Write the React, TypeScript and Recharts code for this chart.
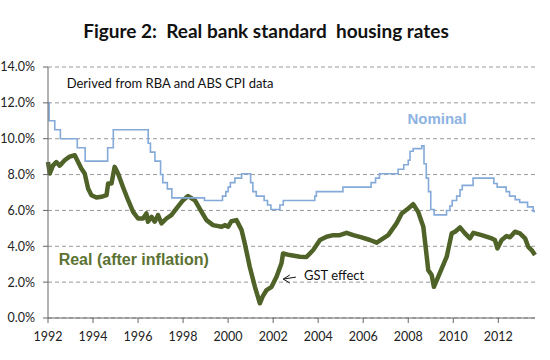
import {
  CartesianGrid,
  Line,
  LineChart,
  ReferenceDot,
  ReferenceLine,
  XAxis,
  YAxis,
} from "recharts";

// real rate (after inflation), [year, %]
const realRate: [number, number][] = [
  [1992.0, 8.7], [1992.08, 8.06], [1992.22, 8.5], [1992.37, 8.7], [1992.52, 8.5],
  [1992.6, 8.6], [1992.74, 8.8], [1992.96, 9.0], [1993.19, 9.08], [1993.26, 8.9],
  [1993.48, 8.34], [1993.63, 8.06], [1993.78, 7.23], [1993.93, 6.85], [1994.15, 6.72],
  [1994.37, 6.76], [1994.6, 6.85], [1994.67, 7.5], [1994.82, 7.5], [1994.96, 8.43],
  [1995.11, 8.06], [1995.33, 7.31], [1995.56, 6.57], [1995.78, 5.92], [1996.0, 5.55],
  [1996.22, 5.55], [1996.37, 5.83], [1996.44, 5.37], [1996.6, 5.64], [1996.74, 5.37],
  [1996.89, 5.74], [1997.04, 5.28], [1997.26, 5.55], [1997.48, 5.74], [1997.71, 6.11],
  [1998.0, 6.57], [1998.22, 6.8], [1998.52, 6.57], [1998.82, 5.92], [1999.04, 5.46],
  [1999.33, 5.18], [1999.71, 5.09], [1999.85, 5.18], [2000.0, 5.09], [2000.15, 5.4],
  [2000.37, 5.46], [2000.6, 4.9], [2000.74, 4.16], [2000.96, 2.86], [2001.19, 1.74],
  [2001.41, 0.82], [2001.53, 1.19], [2001.71, 1.56], [2001.93, 1.74], [2002.15, 2.3],
  [2002.37, 3.05], [2002.44, 3.6], [2002.74, 3.51], [2003.19, 3.42], [2003.48, 3.4],
  [2003.78, 3.79], [2004.08, 4.35], [2004.37, 4.53], [2004.67, 4.62], [2004.96, 4.62],
  [2005.26, 4.75], [2005.56, 4.62], [2005.93, 4.5], [2006.3, 4.35], [2006.6, 4.2],
  [2006.82, 4.38], [2007.11, 4.62], [2007.48, 5.28], [2007.71, 5.83], [2008.0, 6.11],
  [2008.22, 6.35], [2008.44, 5.92], [2008.67, 5.09], [2008.89, 2.67], [2009.04, 2.4],
  [2009.14, 1.74], [2009.33, 2.3], [2009.71, 3.42], [2009.93, 4.72], [2010.08, 4.81],
  [2010.3, 5.05], [2010.52, 4.72], [2010.74, 4.44], [2010.89, 4.75], [2011.26, 4.62],
  [2011.71, 4.44], [2011.85, 4.35], [2011.96, 3.88], [2012.15, 4.35], [2012.37, 4.57],
  [2012.52, 4.5], [2012.74, 4.81], [2012.96, 4.72], [2013.19, 4.44], [2013.33, 3.97],
  [2013.48, 3.79], [2013.63, 3.51],
];

// nominal standard variable rate, step changes [year, %]
const nominalRate: [number, number][] = [
  [1992.0, 12.0], [1992.05, 11.0], [1992.3, 10.5], [1992.55, 10.0], [1993.3, 9.5],
  [1993.65, 8.75], [1994.65, 9.5], [1994.9, 10.5], [1996.45, 9.75], [1996.55, 9.25],
  [1996.75, 8.75], [1997.0, 8.0], [1997.1, 7.55], [1997.3, 7.2], [1997.5, 6.7],
  [1998.95, 6.55], [1999.75, 6.8], [1999.9, 7.05], [2000.0, 7.3], [2000.1, 7.55],
  [2000.3, 7.8], [2000.6, 8.05], [2001.0, 7.55], [2001.1, 7.05], [2001.25, 6.8],
  [2001.6, 6.55], [2001.75, 6.3], [2001.9, 6.05], [2002.3, 6.3], [2002.45, 6.55],
  [2003.85, 6.8], [2003.92, 7.05], [2005.1, 7.3], [2006.35, 7.55], [2006.55, 7.8],
  [2006.72, 8.05], [2007.55, 8.3], [2007.8, 8.55], [2008.0, 8.8], [2008.08, 9.3],
  [2008.22, 9.45], [2008.6, 9.6], [2008.7, 8.6], [2008.8, 7.8], [2008.9, 7.05],
  [2009.0, 6.05], [2009.15, 5.75], [2009.7, 6.0], [2009.85, 6.25], [2009.95, 6.55],
  [2010.15, 6.8], [2010.3, 7.15], [2010.4, 7.4], [2010.88, 7.8], [2011.8, 7.5],
  [2011.95, 7.3], [2012.35, 7.05], [2012.5, 6.8], [2012.75, 6.6], [2012.95, 6.45],
  [2013.3, 6.2], [2013.55, 5.95], [2013.63, 5.95],
];

const yearTicks = [1992, 1994, 1996, 1998, 2000, 2002, 2004, 2006, 2008, 2010, 2012];
const rateTicks = [0, 2, 4, 6, 8, 10, 12, 14];

const realData = realRate.map(([t, v]) => ({ t, real: v }));
const nominalData = nominalRate.map(([t, v]) => ({ t, nominal: v }));

const FONT = "Lato, 'Noto Sans', sans-serif";
const tickStyle = { fontSize: 12.5, fill: "#222", fontFamily: FONT };

const App = () => {
  return (
    <div style={{ position: "absolute", left: 0, top: 0, width: 550, height: 360, background: "#fff" }}>
      <div
        style={{
          position: "absolute",
          left: 0,
          top: 20,
          width: 532,
          textAlign: "center",
          fontFamily: FONT,
          fontWeight: "bold",
          fontSize: 19,
          lineHeight: "22px",
          whiteSpace: "pre",
          color: "#111",
        }}
      >
        {"Figure 2:  Real bank standard  housing rates"}
      </div>
      <LineChart
        width={550}
        height={360}
        margin={{ top: 67, right: 15, bottom: 12, left: 5 }}
        style={{ position: "absolute", left: 0, top: 0 }}
      >
        <CartesianGrid vertical={false} strokeDasharray="4 3" stroke="#999" />
        <XAxis
          dataKey="t"
          type="number"
          domain={[1992, 2013.63]}
          ticks={yearTicks}
          allowDuplicatedCategory={false}
          height={30}
          tick={tickStyle}
          tickSize={5}
          tickMargin={9}
          stroke="#666"
        />
        <YAxis
          type="number"
          domain={[0, 14]}
          ticks={rateTicks}
          width={43}
          tick={tickStyle}
          tickSize={5}
          tickMargin={8}
          tickFormatter={(v: number) => v.toFixed(1) + "%"}
          stroke="#666"
        />
        <Line
          data={realData}
          dataKey="real"
          type="linear"
          stroke="#4f6228"
          strokeWidth={4.5}
          strokeLinejoin="round"
          dot={false}
          isAnimationActive={false}
        />
        <Line
          data={nominalData}
          dataKey="nominal"
          type="stepAfter"
          stroke="#84aad9"
          strokeWidth={1.6}
          dot={false}
          isAnimationActive={false}
        />
        <ReferenceDot
          x={1992.83}
          y={13.09}
          r={0}
          label={{ value: "Derived from RBA and ABS CPI data", position: "right", offset: 0, fontSize: 13, fill: "#111", fontFamily: FONT }}
        />
        <ReferenceDot
          x={2009.28}
          y={11.14}
          r={0}
          label={{ value: "Nominal", position: "center", fontSize: 15, fontWeight: "bold", fill: "#8db3e2", fontFamily: "'Liberation Sans', Arial, sans-serif" }}
        />
        <ReferenceDot
          x={1995.81}
          y={3.29}
          r={0}
          label={{ value: "Real (after inflation)", position: "center", fontSize: 16, fontWeight: "bold", fill: "#5b7232", fontFamily: "'Liberation Sans', Arial, sans-serif" }}
        />
        <ReferenceDot
          x={2003.37}
          y={2.37}
          r={0}
          label={{ value: "GST effect", position: "right", offset: 0, fontSize: 13, fill: "#111", fontFamily: FONT }}
        />
        <ReferenceLine segment={[{ x: 2002.45, y: 2.17 }, { x: 2003.01, y: 2.28 }]} stroke="#111" strokeWidth={1} />
        <ReferenceLine segment={[{ x: 2002.45, y: 2.17 }, { x: 2002.74, y: 2.4 }]} stroke="#111" strokeWidth={1} />
        <ReferenceLine segment={[{ x: 2002.45, y: 2.17 }, { x: 2002.74, y: 1.95 }]} stroke="#111" strokeWidth={1} />
      </LineChart>
    </div>
  );
};

export default App;
